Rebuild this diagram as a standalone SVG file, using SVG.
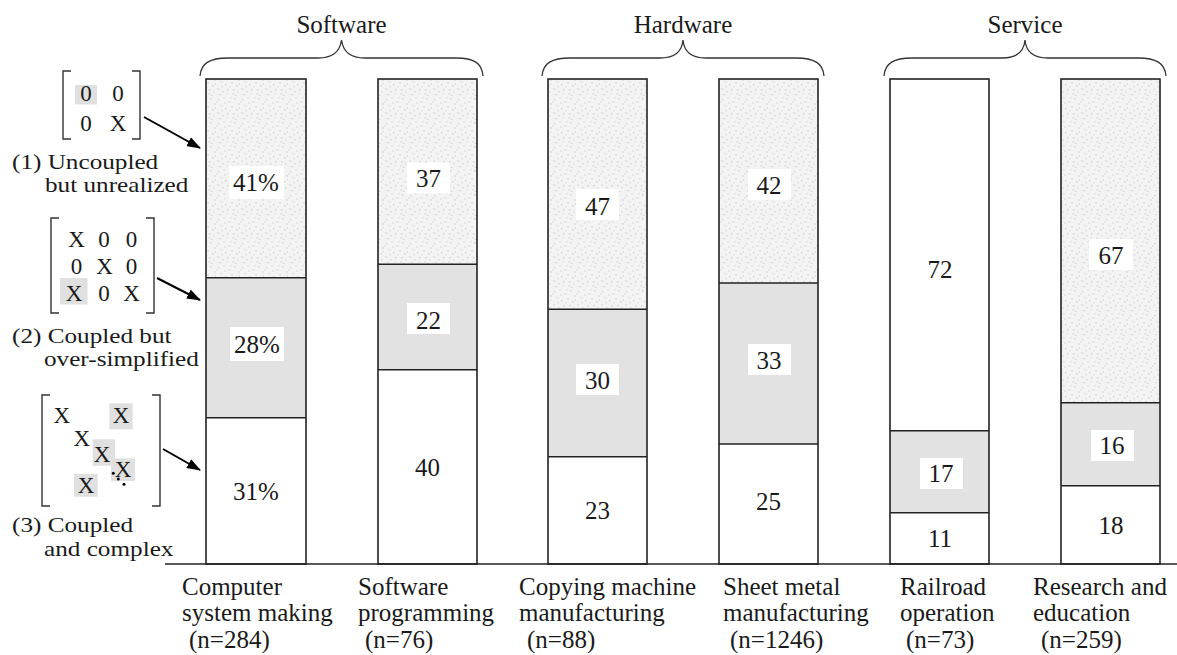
<svg xmlns="http://www.w3.org/2000/svg" width="1177" height="655" viewBox="0 0 1177 655">
<style>
text{font-size:25px;fill:#1a1a1a}
.c{text-anchor:middle}
.lg{font-size:21px}
.m{font-size:23px}
.out{fill:none;stroke:#222;stroke-width:1.6}
.ln{stroke:#222;stroke-width:1.6}
.st{fill:url(#stip)}
.gray{fill:#e2e2e2}
.wh{fill:#fff}
.hl{fill:#e0e0e0}
.brk{fill:none;stroke:#333;stroke-width:1.4}
.brace{fill:none;stroke:#333;stroke-width:1.3}
.arr{stroke:#000;stroke-width:2;fill:none;marker-end:url(#ah)}
.d1{fill:#d2d2d2}
.d2{fill:#dddddd}
.d3{fill:#e6e6e6}
</style>
<defs>
<pattern id="stip" x="0" y="0" width="24" height="24" patternUnits="userSpaceOnUse">
<rect width="24" height="24" fill="#f3f3f3"/>
<rect class="d1" x="2" y="3" width="1.6" height="1.4"/>
<rect class="d2" x="7" y="1" width="2" height="1.5"/>
<rect class="d3" x="12" y="5" width="2.5" height="2"/>
<rect class="d1" x="18" y="2" width="1.4" height="1.6"/>
<rect class="d2" x="22" y="7" width="1.8" height="1.8"/>
<rect class="d3" x="4" y="9" width="2.4" height="1.8"/>
<rect class="d1" x="9" y="12" width="1.5" height="1.5"/>
<rect class="d2" x="15" y="10" width="2" height="1.4"/>
<rect class="d1" x="20" y="13" width="1.4" height="1.4"/>
<rect class="d3" x="1" y="16" width="2.2" height="2"/>
<rect class="d2" x="6" y="19" width="1.6" height="1.6"/>
<rect class="d1" x="11" y="17" width="1.4" height="1.5"/>
<rect class="d3" x="16" y="21" width="2.4" height="1.8"/>
<rect class="d2" x="21" y="19" width="1.7" height="1.5"/>
<rect class="d1" x="3" y="22" width="1.5" height="1.4"/>
<rect class="d3" x="13" y="14" width="2" height="2.2"/>
<rect class="d2" x="8" y="6" width="1.5" height="1.5"/>
<rect class="d1" x="19" y="23" width="1.4" height="1"/>
<rect class="d2" x="23" y="11" width="1" height="1.6"/>
<rect class="d3" x="10" y="21" width="2" height="1.6"/>
<rect class="d1" x="14" y="1" width="1.3" height="1.3"/>
<rect class="d2" x="5" y="14" width="1.6" height="1.4"/>
<rect class="d1" x="17" y="17" width="1.5" height="1.5"/>
<rect class="d3" x="0" y="5" width="1.8" height="2"/>
</pattern>
<marker id="ah" viewBox="0 0 14 10" refX="13" refY="5" markerWidth="14" markerHeight="10" markerUnits="userSpaceOnUse" orient="auto">
<path d="M0,0 L14,5 L0,10 Z" fill="#000"/>
</marker>
</defs>
<rect width="1177" height="655" fill="#fff"/>

<g id="categories" font-family="Liberation Serif">
<path class="brace" d="M200,76 C201,63 210,58 228,58 L318,58 C333,58 340,52 341.5,40 C343,52 350,58 365,58 L456,58 C474,58 482,63 483,76"/>
<text class="c" x="341.5" y="33">Software</text>
<path class="brace" d="M542,76 C543,63 552,58 570,58 L660,58 C675,58 682,52 683,40 C684,52 691,58 706,58 L796,58 C814,58 823,63 824,76"/>
<text class="c" x="683" y="33">Hardware</text>
<path class="brace" d="M884,76 C885,63 894,58 912,58 L1002,58 C1017,58 1024,52 1025,40 C1026,52 1033,58 1048,58 L1138,58 C1156,58 1165,63 1166,76"/>
<text class="c" x="1025" y="33">Service</text>
</g>

<line id="axis" class="ln" x1="165" y1="564" x2="1177" y2="564"/>

<g id="bar1" font-family="Liberation Serif">
<rect class="st" x="206" y="79" width="100" height="198.7"/>
<rect class="gray" x="206" y="277.7" width="100" height="140"/>
<line class="ln" x1="206" y1="277.7" x2="306" y2="277.7"/>
<line class="ln" x1="206" y1="417.7" x2="306" y2="417.7"/>
<rect class="out" x="206" y="79" width="100" height="485"/>
<rect class="wh" x="229" y="166" width="55" height="33"/>
<text class="c" x="256" y="191">41%</text>
<rect class="wh" x="230" y="327" width="54" height="34"/>
<text class="c" x="257" y="353">28%</text>
<text class="c" x="256" y="500">31%</text>
<text x="182" y="595">Computer</text>
<text x="182" y="621">system making</text>
<text x="189" y="648">(n=284)</text>
</g>

<g id="bar2" font-family="Liberation Serif">
<rect class="st" x="378" y="79" width="99" height="185.3"/>
<rect class="gray" x="378" y="264.3" width="99" height="105.4"/>
<line class="ln" x1="378" y1="264.3" x2="477" y2="264.3"/>
<line class="ln" x1="378" y1="369.7" x2="477" y2="369.7"/>
<rect class="out" x="378" y="79" width="99" height="485"/>
<rect class="wh" x="407" y="162.5" width="43" height="31"/>
<text class="c" x="428.5" y="187">37</text>
<rect class="wh" x="407" y="303" width="43" height="31"/>
<text class="c" x="428.5" y="328.5">22</text>
<text class="c" x="427.5" y="475.5">40</text>
<text x="358" y="595">Software</text>
<text x="358" y="621">programming</text>
<text x="365" y="648">(n=76)</text>
</g>

<g id="bar3" font-family="Liberation Serif">
<rect class="st" x="548" y="79" width="99" height="230.3"/>
<rect class="gray" x="548" y="309.3" width="99" height="147.4"/>
<line class="ln" x1="548" y1="309.3" x2="647" y2="309.3"/>
<line class="ln" x1="548" y1="456.7" x2="647" y2="456.7"/>
<rect class="out" x="548" y="79" width="99" height="485"/>
<rect class="wh" x="576" y="189" width="43" height="31"/>
<text class="c" x="597.5" y="214.5">47</text>
<rect class="wh" x="576" y="364" width="43" height="31"/>
<text class="c" x="597.5" y="389">30</text>
<text class="c" x="597.5" y="518.5">23</text>
<text x="519" y="595">Copying machine</text>
<text x="519" y="621">manufacturing</text>
<text x="527" y="648">(n=88)</text>
</g>

<g id="bar4" font-family="Liberation Serif">
<rect class="st" x="719" y="79" width="99" height="204"/>
<rect class="gray" x="719" y="283" width="99" height="161"/>
<line class="ln" x1="719" y1="283" x2="818" y2="283"/>
<line class="ln" x1="719" y1="444" x2="818" y2="444"/>
<rect class="out" x="719" y="79" width="99" height="485"/>
<rect class="wh" x="748" y="169" width="43" height="31"/>
<text class="c" x="769" y="193.5">42</text>
<rect class="wh" x="748" y="344" width="43" height="31"/>
<text class="c" x="769" y="368.5">33</text>
<text class="c" x="768.5" y="510">25</text>
<text x="723" y="595">Sheet metal</text>
<text x="723" y="621">manufacturing</text>
<text x="730" y="648">(n=1246)</text>
</g>

<g id="bar5" font-family="Liberation Serif">
<rect class="gray" x="890" y="430.7" width="99" height="82"/>
<line class="ln" x1="890" y1="430.7" x2="989" y2="430.7"/>
<line class="ln" x1="890" y1="512.7" x2="989" y2="512.7"/>
<rect class="out" x="890" y="79" width="99" height="485"/>
<text class="c" x="940" y="277.5">72</text>
<rect class="wh" x="920" y="458" width="43" height="31"/>
<text class="c" x="941" y="482.3">17</text>
<text class="c" x="940" y="547">11</text>
<text x="900" y="595">Railroad</text>
<text x="900" y="621">operation</text>
<text x="906" y="648">(n=73)</text>
</g>

<g id="bar6" font-family="Liberation Serif">
<rect class="st" x="1061" y="79" width="99" height="323.7"/>
<rect class="gray" x="1061" y="402.7" width="99" height="83"/>
<line class="ln" x1="1061" y1="402.7" x2="1160" y2="402.7"/>
<line class="ln" x1="1061" y1="485.7" x2="1160" y2="485.7"/>
<rect class="out" x="1061" y="79" width="99" height="485"/>
<rect class="wh" x="1089" y="239" width="44" height="31"/>
<text class="c" x="1111" y="264">67</text>
<rect class="wh" x="1091" y="430" width="43" height="31"/>
<text class="c" x="1112" y="454">16</text>
<text class="c" x="1111" y="534">18</text>
<text x="1033" y="595">Research and</text>
<text x="1033" y="621">education</text>
<text x="1041" y="648">(n=259)</text>
</g>

<g id="legend1" font-family="Liberation Serif">
<path class="brk" d="M71,71 H63 V139 H71 M132,71 H140 V139 H132"/>
<rect class="hl" x="75" y="85" width="22" height="19.5"/>
<text class="c m" x="86" y="101">0</text>
<text class="c m" x="118" y="101">0</text>
<text class="c m" x="86" y="131">0</text>
<text class="c m" x="118" y="131">X</text>
<text class="lg" transform="translate(12,169) scale(1.2,1)">(1) Uncoupled</text>
<text class="lg" transform="translate(45,191.5) scale(1.2,1)">but unrealized</text>
</g>

<g id="legend2" font-family="Liberation Serif">
<path class="brk" d="M59,218 H51 V313 H59 M146,218 H154 V313 H146"/>
<rect class="hl" x="60" y="278" width="27.5" height="26.5"/>
<text class="c m" x="76.5" y="246.5">X</text>
<text class="c m" x="104" y="246.5">0</text>
<text class="c m" x="131.5" y="246.5">0</text>
<text class="c m" x="76.5" y="273.5">0</text>
<text class="c m" x="104.5" y="273.5">X</text>
<text class="c m" x="131.5" y="273.5">0</text>
<text class="c m" x="74" y="300.5">X</text>
<text class="c m" x="104" y="300.5">0</text>
<text class="c m" x="131.5" y="300.5">X</text>
<text class="lg" transform="translate(12,343) scale(1.2,1)">(2) Coupled but</text>
<text class="lg" transform="translate(44,366) scale(1.2,1)">over-simplified</text>
</g>

<g id="legend3" font-family="Liberation Serif">
<path class="brk" d="M50,395 H42 V506 H50 M152,395 H160 V506 H152"/>
<rect class="hl" x="109.3" y="403.3" width="23.4" height="26"/>
<rect class="hl" x="92.7" y="439.3" width="22.3" height="26.4"/>
<rect class="hl" x="111" y="458.3" width="24" height="22.7"/>
<rect class="hl" x="74" y="474" width="23.7" height="22.7"/>
<text class="c m" x="61.7" y="423.3">X</text>
<text class="c m" x="121" y="423.3">X</text>
<text class="c m" x="81.7" y="445.7">X</text>
<text class="c m" x="102" y="462.3">X</text>
<text class="c m" x="123" y="476.7">X</text>
<text class="c m" x="86" y="493.3">X</text>
<circle cx="113.3" cy="473.3" r="1.5" fill="#000"/>
<circle cx="118.3" cy="479" r="1.5" fill="#000"/>
<circle cx="124" cy="484.3" r="1.5" fill="#000"/>
<text class="lg" transform="translate(12,532) scale(1.2,1)">(3) Coupled</text>
<text class="lg" transform="translate(44,556) scale(1.2,1)">and complex</text>
</g>

<g id="connectors">
<line class="arr" x1="144" y1="117" x2="200" y2="148"/>
<line class="arr" x1="157" y1="278" x2="200" y2="300"/>
<line class="arr" x1="163" y1="449" x2="200" y2="470"/>
</g>
</svg>
